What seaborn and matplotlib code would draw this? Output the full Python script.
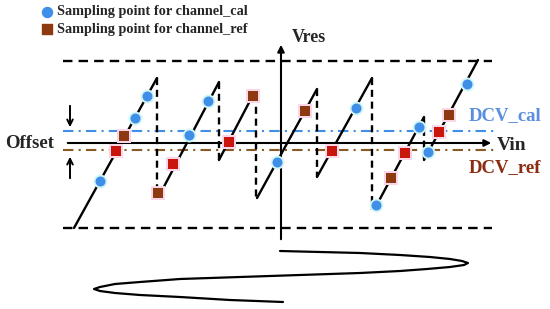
import matplotlib
matplotlib.use("Agg")
import matplotlib.pyplot as plt
import seaborn as sns
import pandas as pd

# sawtooth ramps (pixel-like schematic coordinates, y grows downward)
ramp_x0 = [74, 158, 219, 257, 317, 374, 424]
ramp_y0 = [228, 198, 160, 198, 177, 210, 160]
ramp_x1 = [157, 219, 253, 317, 372, 424, 478]
ramp_y1 = [78, 82, 95, 89, 78, 117, 60]

# dashed drops between ramps
drop_x = [157, 219, 256, 317, 372, 424]
drop_top = [78, 82, 95, 89, 78, 117]
drop_bot = [198, 160, 198, 177, 210, 160]

# sampling points
cal_x = [100, 135, 147, 189, 208, 277, 356, 376, 419, 428, 467]
cal_y = [181, 118, 96, 135, 101, 162, 108, 205, 127, 152, 84]
ref_x = [116, 124, 158, 173, 229, 253, 305, 332, 391, 405, 439, 449]
ref_y = [151, 136, 193, 164, 142, 96, 111, 151, 178, 153, 132, 115]
ref_shade = ["red", "brown", "brown", "red", "red", "brown",
             "brown", "red", "brown", "red", "red", "brown"]

# levels
full_top, full_bot = 61, 228
vin_y = 143
dcv_cal_y = 131
dcv_ref_y = 150

# spiral-ish curve under the axis
curve_x = [280, 320, 360, 400, 430, 450, 462, 468, 464, 450, 427, 400, 360, 300,
           240, 180, 140, 115, 100, 94, 100, 115, 140, 180, 230, 283]
curve_y = [251, 252, 253, 255, 257, 259, 261, 263, 265, 267, 269, 271, 273, 275,
           277, 279, 282, 284, 287, 289, 291, 293, 295, 297, 300, 302]

sns.set_style("white")
serif = ["Liberation Serif", "DejaVu Serif"]

blue = "#3f8fe8"
blue_txt = "#5a8fe0"
red = "#c8160c"
brown = "#8e3a10"
brown_line = "#8b5a22"
brown_txt = "#8b2c12"

fig = plt.figure(figsize=(5.5, 3.09), dpi=100)
ax = fig.add_axes([0, 0, 1, 1])
ax.set_xlim(0, 550)
ax.set_ylim(309, 0)
ax.axis("off")

# full-scale dashed bounds
for y in (full_top, full_bot):
    ax.plot([63, 492], [y, y], color="black", lw=1.7, dashes=(4, 2.6))

# DCV lines
ax.plot([63, 497], [dcv_cal_y, dcv_cal_y], color=blue, lw=1.5, dashes=(5, 2.5, 1, 2.5))
ax.plot([63, 497], [dcv_ref_y, dcv_ref_y], color=brown_line, lw=1.5, dashes=(5, 2.5, 1, 2.5))

# axes
ax.annotate("", xy=(494, vin_y), xytext=(65, vin_y),
            arrowprops=dict(arrowstyle="-|>", color="black", lw=1.5, mutation_scale=10))
ax.annotate("", xy=(281, 42), xytext=(281, 242),
            arrowprops=dict(arrowstyle="-|>", color="black", lw=1.5, mutation_scale=10))

# ramps
for i in range(len(ramp_x0)):
    seg = pd.DataFrame({"x": [ramp_x0[i], ramp_x1[i]], "y": [ramp_y0[i], ramp_y1[i]]})
    sns.lineplot(data=seg, x="x", y="y", ax=ax, color="black", lw=1.7, sort=False)
for i in range(len(drop_x)):
    ax.plot([drop_x[i], drop_x[i]], [drop_top[i], drop_bot[i]], color="black",
            lw=1.7, dashes=(3, 2))

# offset arrows
ax.annotate("", xy=(70, 130), xytext=(70, 103),
            arrowprops=dict(arrowstyle="->", color="black", lw=1.4, mutation_scale=10))
ax.annotate("", xy=(70, 154), xytext=(70, 181),
            arrowprops=dict(arrowstyle="->", color="black", lw=1.4, mutation_scale=10))

# curve
ax.plot(curve_x, curve_y, color="black", lw=1.6, solid_capstyle="round")

# sampling points with faint halo
cal = pd.DataFrame({"x": cal_x, "y": cal_y})
ref = pd.DataFrame({"x": ref_x, "y": ref_y, "shade": ref_shade})
sns.scatterplot(data=cal, x="x", y="y", ax=ax, marker="o", s=100, color="#d2f6f7",
                linewidth=0, legend=False, zorder=4)
sns.scatterplot(data=ref, x="x", y="y", ax=ax, marker="s", s=110, color="#fad6e8",
                linewidth=0, legend=False, zorder=4)
sns.scatterplot(data=cal, x="x", y="y", ax=ax, marker="o", s=52, color=blue,
                linewidth=0, legend=False, zorder=5)
sns.scatterplot(data=ref, x="x", y="y", hue="shade", palette={"red": red, "brown": brown},
                ax=ax, marker="s", s=58, linewidth=0, legend=False, zorder=5)

# legend
ax.scatter([47], [12], marker="o", s=52, color=blue, zorder=5)
ax.scatter([47], [29], marker="s", s=58, color=brown, zorder=5)
ax.text(57, 12, "Sampling point for channel_cal", family=serif, weight="bold",
        fontsize=10.3, va="center", ha="left")
ax.text(57, 29, "Sampling point for channel_ref", family=serif, weight="bold",
        fontsize=10.3, va="center", ha="left")

# labels
ax.text(292, 38, "Vres", family=serif, weight="bold", fontsize=13, va="center", ha="left")
ax.text(497, 145, "Vin", family=serif, weight="bold", fontsize=14, va="center", ha="left")
ax.text(5, 143, "Offset", family=serif, weight="bold", fontsize=13.5, va="center", ha="left")
ax.text(469, 116, "DCV_cal", family=serif, weight="bold", fontsize=13.5, va="center",
        ha="left", color=blue_txt)
ax.text(469, 168, "DCV_ref", family=serif, weight="bold", fontsize=13.5, va="center",
        ha="left", color=brown_txt)

fig.savefig("out.png", dpi=100)
